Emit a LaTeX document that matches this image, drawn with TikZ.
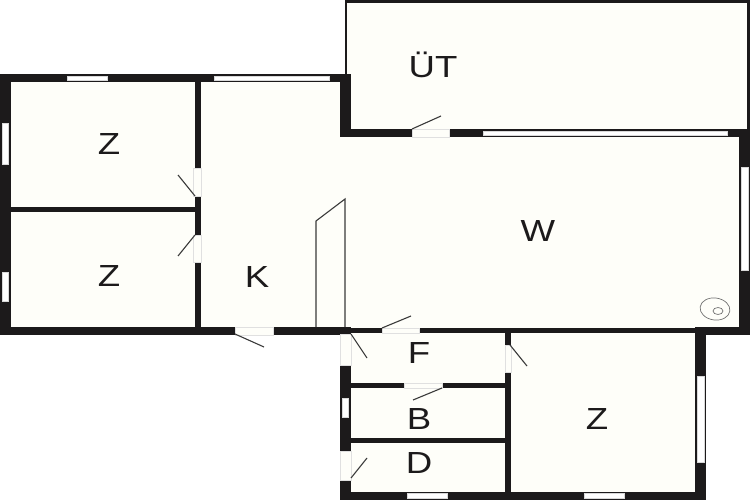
\documentclass[tikz,border=0pt]{standalone}
\usepackage{fontspec}
\setmainfont{Liberation Sans}
\definecolor{wallc}{HTML}{1C1A1B}
\definecolor{floorc}{HTML}{FEFEF9}
\definecolor{thinc}{HTML}{3A3A3A}
\tikzset{
  wall/.style={fill=wallc,draw=none},
  floorarea/.style={fill=floorc,draw=none},
  gap/.style={fill=floorc,draw=black!12,line width=0.4pt},
  win/.style={fill=white,draw=black!15,line width=0.3pt},
  leaf/.style={draw=thinc,line width=1.1pt},
  label/.style={font=\fontsize{30.5}{30.5}\selectfont,text=wallc,xscale=1.2,inner sep=0pt,anchor=center},
}
\begin{document}
\begin{tikzpicture}[x=1pt,y=-1pt]
\useasboundingbox (0,0) rectangle (750,500);
\fill[white] (0,0) rectangle (750,500);
% floors
\fill[floorarea] (11,82) -- (345,82) -- (345,135) -- (739,135) -- (739,330) -- (11,330) -- cycle;
\fill[floorarea] (345,1) rectangle (749,135);
\fill[floorarea] (345,330) rectangle (700,496);
% outdoor store outline
\draw[wallc,line width=2.6pt] (346,76) -- (346,1.3) -- (748.5,1.3) -- (748.5,132);
% outer walls, upper left
\fill[wall] (0,74) rectangle (351,82);
\fill[wall] (0,74) rectangle (11,335);
\fill[wall] (0,327) rectangle (351,335);
\fill[wall] (340,74) rectangle (351,137);
\fill[wall] (340,129) rectangle (750,137);
\fill[wall] (739,130) rectangle (750,334);
\fill[wall] (351,328) rectangle (700,333);
\fill[wall] (695,327) rectangle (750,334.5);
\fill[wall] (695,327) rectangle (706,500);
\fill[wall] (340,492) rectangle (706,500);
\fill[wall] (340,327) rectangle (351,500);
% inner walls
\fill[wall] (195,82) rectangle (201,327);
\fill[wall] (11,207) rectangle (195,212);
\fill[wall] (351,383) rectangle (505,388);
\fill[wall] (351,438) rectangle (505,443);
\fill[wall] (505,333) rectangle (511,492);
% door gaps
\fill[gap] (193.5,168) rectangle (201,196);
\fill[gap] (193.5,235) rectangle (201,262);
\fill[gap] (235,327) rectangle (273,335);
\fill[gap] (412,129) rectangle (449,137);
\fill[gap] (382,328) rectangle (419,333);
\fill[gap] (404,383) rectangle (442,388);
\fill[gap] (505,345) rectangle (511,372);
\fill[gap] (340,334) rectangle (351,365);
\fill[gap] (340,451) rectangle (351,480);
% windows
\fill[win] (67,76) rectangle (107,80);
\fill[win] (214,76) rectangle (329,80);
\fill[win] (2.5,123) rectangle (8.5,164);
\fill[win] (2.5,272) rectangle (8.5,301);
\fill[win] (483,131.5) rectangle (727,135);
\fill[win] (741,167) rectangle (748,270);
\fill[win] (697,376) rectangle (704,462);
\fill[win] (584,493.5) rectangle (624,498);
\fill[win] (407,493.5) rectangle (447,498);
\fill[win] (342.5,398) rectangle (348.5,417);
% door leaves
\draw[leaf] (195,196) -- (178,175);
\draw[leaf] (195,235) -- (178,256);
\draw[leaf] (235,334) -- (264,347);
\draw[leaf] (412,129) -- (441,116);
\draw[leaf] (382,328) -- (411,316);
\draw[leaf] (351,334) -- (367,358);
\draw[leaf] (442,388) -- (413,400);
\draw[leaf] (510,345) -- (527,366);
\draw[leaf] (351,478) -- (367,458);
% stairs
\draw[leaf] (316,327) -- (316,221) -- (345,199) -- (345,327);
% stove
\draw[black!55,line width=0.7pt,rotate around={-8:(715,309)}] (715,309) ellipse [x radius=15,y radius=11];
\draw[black!55,line width=0.7pt] (718,311) ellipse [x radius=5,y radius=3.5];
% labels
\node[label] (z1) at (109,144.5) {Z};
\node[label] (z2) at (109,276.5) {Z};
\node[label] (k) at (257,277) {K};
\node[label] (ut) at (433,64.5) {ÜT};
\node[label] (w) at (538,231.5) {W};
\node[label] (f) at (419,353) {F};
\node[label] (b) at (419,419) {B};
\node[label] (d) at (419,463) {D};
\node[label] (z3) at (597,419) {Z};
\end{tikzpicture}
\end{document}
